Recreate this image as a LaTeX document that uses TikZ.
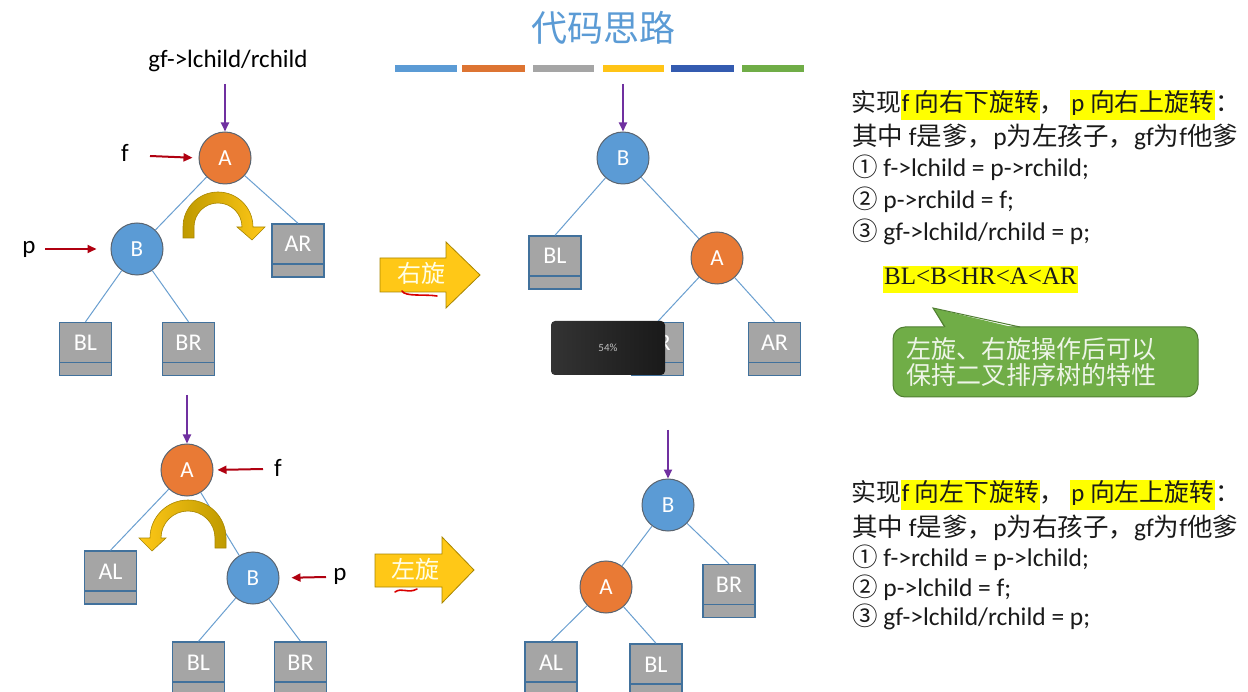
\documentclass[tikz,border=0pt]{standalone}
\usepackage{fontspec}
\setmainfont{Carlito}
\newfontfamily\cjk{Noto Sans CJK SC}
\usetikzlibrary{arrows.meta}
\definecolor{cOrange}{HTML}{E97A35}
\definecolor{cBlue}{HTML}{5B9BD5}
\definecolor{cBorder}{HTML}{5A6470}
\definecolor{cGray}{HTML}{A5A5A5}
\definecolor{cBoxLine}{HTML}{41719C}
\definecolor{cEdge}{HTML}{6A9FD0}
\definecolor{cPurple}{HTML}{7030A0}
\definecolor{cRed}{HTML}{B00010}
\definecolor{cGold}{HTML}{FFC817}
\definecolor{cGoldDark}{HTML}{BF9A00}
\definecolor{cGoldEdge}{HTML}{A88600}
\definecolor{cTitle}{HTML}{5B9BD5}
\definecolor{hlYellow}{HTML}{FFFF00}
\definecolor{cGreen}{HTML}{70AD47}
\definecolor{cGreenEdge}{HTML}{507E32}
\definecolor{cGreenText}{HTML}{EEF5E8}
\definecolor{cText}{HTML}{1A1A1A}
\newcommand{\fsz}[1]{\fontsize{#1}{#1}\selectfont}
\newcommand{\hlbox}[1]{{\setlength{\fboxsep}{1pt}\colorbox{hlYellow}{\strut#1}}}
\tikzset{
  circO/.style={circle, minimum size=52pt, inner sep=0pt, fill=cOrange, draw=cBorder, line width=1pt, text=white, font=\fsz{23}},
  circB/.style={circO, fill=cBlue},
  leaf/.style={rectangle, minimum width=52pt, minimum height=53pt, inner sep=0pt, fill=cGray, draw=cBoxLine, line width=1.4pt, text=white, text height=15pt, text depth=12pt, font=\fsz{24},
    path picture={\draw[cBoxLine, line width=1.2pt] ([yshift=13pt]path picture bounding box.south west) -- ([yshift=13pt]path picture bounding box.south east);}},
  treeline/.style={draw=cEdge, line width=1pt},
  purplearr/.style={draw=cPurple, line width=2pt, -{Triangle[length=9pt,width=8pt]}},
  redarr/.style={draw=cRed, line width=2pt, -{Triangle[length=9pt,width=8pt]}},
  lbl/.style={font=\fsz{25}, text=black, inner sep=0pt},
  codeline/.style={anchor=west, inner sep=0pt, font=\fsz{25.5}, text=cText},
  headline/.style={codeline, font=\fsz{24.8}},
  bigarrow/.style={fill=cGold, draw=cGoldEdge, line width=0.8pt},
  arrowtext/.style={font=\cjk\fsz{24}, text=white!90!yellow, inner sep=0pt},
  curlarrow/.style={draw=cGoldEdge, line width=0.6pt},
  squiggle/.style={draw=red!85!black, line width=1.6pt, line cap=round},
  bar/.style={line width=7pt},
}
\begin{document}
\begin{tikzpicture}[x=1pt,y=1pt]
\useasboundingbox (0,0) rectangle (1248,-692);
\fill[white] (0,0) rectangle (1248,-692);

% title and colour bars
\node[font=\cjk\fsz{36}, text=cTitle, inner sep=0pt] (title) at (603,-28) {代码思路};
\draw[bar, cBlue] (395,-69) -- (457,-69);
\draw[bar, cOrange!95!black] (462,-69) -- (525,-69);
\draw[bar, cGray] (533,-69) -- (594,-69);
\draw[bar, cGold!95!orange] (603,-69) -- (664,-69);
\draw[bar, cBoxLine!80!blue] (671,-69) -- (734,-69);
\draw[bar, cGreen] (742,-69) -- (804,-69);

% ===== top-left tree (before right rotation)
\node[lbl, anchor=base] (gf) at (228,-68) {gf->lchild/rchild};
\node[circO] (tlA) at (225,-158) {A};
\node[circB] (tlB) at (137,-249) {B};
\node[leaf] (tlAR) at (298,-250.5) {AR};
\node[leaf] (tlBL) at (85.5,-349) {BL};
\node[leaf] (tlBR) at (188.5,-349) {BR};
\draw[treeline] (tlA) -- (tlB);
\draw[treeline] (tlA) -- (tlAR.north);
\draw[treeline] (tlB) -- (tlBL.north);
\draw[treeline] (tlB) -- (tlBR.north);
\coordinate (tlTop) at (225,-84);
\draw[purplearr] (tlTop) -- (tlA.north);
\node[lbl, anchor=base] (tlf) at (125,-162) {f};
\node[lbl, anchor=base] (tlp) at (29,-254) {p};
\coordinate (tlfs) at (150,-156);
\coordinate (tlps) at (45,-249);
\draw[redarr, shorten >=6pt] (tlfs) -- (tlA.west);
\draw[redarr, shorten >=14pt] (tlps) -- (tlB.west);
\shadedraw[left color=cGoldDark, right color=cGold, curlarrow]
  (183,-238) -- (183,-227) arc[start angle=180, end angle=0, radius=35]
  -- (265,-227) -- (252,-240) -- (237,-227) -- (242,-227)
  arc[start angle=0, end angle=180, radius=24] -- (194,-238) -- cycle;

% right-rotation arrow
\draw[bigarrow] (380,-258) -- (446,-258) -- (446,-242) -- (480,-275) -- (446,-308) -- (446,-292) -- (380,-292) -- cycle;
\node[arrowtext] (rot1) at (421,-273) {右旋};
\draw[squiggle] (402,-291) .. controls (405,-297) and (425,-294) .. (437,-296);

% ===== top-right tree (after right rotation)
\node[circB] (trB) at (623,-158) {B};
\node[circO] (trA) at (717,-258) {A};
\node[leaf] (trBL) at (555,-262.5) {BL};
\node[leaf] (trBR) at (657.5,-349) {BR};
\node[leaf] (trAR) at (774.5,-349) {AR};
\draw[treeline] (trB) -- (trBL.north);
\draw[treeline] (trB) -- (trA);
\draw[treeline] (trA) -- (trBR.north);
\draw[treeline] (trA) -- (trAR.north);
\coordinate (trTop) at (623,-84);
\draw[purplearr] (trTop) -- (trB.north);

% right-rotation explanation
\node[headline] (r1) at (851,-105) {{\cjk 实现}\hlbox{f {\cjk 向右下旋转}}{\cjk ，} \hlbox{p {\cjk 向右上旋转}}{\cjk ：}};
\node[codeline] (r2) at (852,-137) {{\cjk 其中} f{\cjk 是爹，}p{\cjk 为左孩子，}gf{\cjk 为}f{\cjk 他爹}};
\node[codeline] (r3) at (852,-168) {{\cjk ①} f->lchild = p->rchild;};
\node[codeline] (r4) at (852,-200) {{\cjk ②} p->rchild = f;};
\node[codeline] (r5) at (852,-232) {{\cjk ③} gf->lchild/rchild = p;};
\node[anchor=west, inner sep=0pt, font=\fontspec{Liberation Serif}\fsz{25}, text=cText] (order) at (883,-280)
  {\hlbox{BL<B<HR<A<AR}};

% callout
\fill[cGreen, draw=cGreenEdge, line width=1pt, rounded corners=12pt] (893,-327) rectangle (1198,-397);
\fill[cGreen] (945,-329) -- (933,-308) -- (1020,-329) -- cycle;
\draw[cGreenEdge, line width=1pt] (945,-327) -- (933,-308) -- (1020,-327);
\node[anchor=west, inner sep=0pt, font=\cjk\fsz{25}, text=cGreenText] (c1) at (906,-349) {左旋、右旋操作后可以};
\node[anchor=west, inner sep=0pt, font=\cjk\fsz{25}, text=cGreenText] (c2) at (906,-375) {保持二叉排序树的特性};

% video overlay
\shade[left color=black!80, right color=black!90, rounded corners=4pt] (551,-321) rectangle (665,-375);
\node[font=\fsz{11}, text=black!25, inner sep=0pt] (pct) at (608,-348) {54\%};

% ===== bottom-left tree (before left rotation)
\node[circO] (blA) at (187,-470) {A};
\node[circB] (blB) at (253,-578) {B};
\node[leaf] (blAL) at (110.5,-577.5) {AL};
\node[leaf] (blBL) at (198.5,-668.5) {BL};
\node[leaf] (blBR) at (300.5,-668.5) {BR};
\draw[treeline] (blA) -- (blAL.north);
\draw[treeline] (blA) -- (blB);
\draw[treeline] (blB) -- (blBL.north);
\draw[treeline] (blB) -- (blBR.north);
\coordinate (blTop) at (187,-395);
\draw[purplearr] (blTop) -- (blA.north);
\node[lbl, anchor=base] (blf) at (278,-476) {f};
\node[lbl, anchor=base] (blp) at (340,-580) {p};
\coordinate (blfs) at (263,-469);
\coordinate (blps) at (326,-577);
\draw[redarr, shorten >=4pt] (blfs) -- (blA.east);
\draw[redarr, shorten >=12pt] (blps) -- (blB.east);
\shadedraw[left color=cGold, right color=cGoldDark, curlarrow]
  (226,-548) -- (226,-538) arc[start angle=0, end angle=180, radius=38]
  -- (139,-538) -- (152,-551) -- (166,-538) -- (161,-538)
  arc[start angle=180, end angle=0, radius=27] -- (215,-548) -- cycle;

% left-rotation arrow
\draw[bigarrow] (375,-554) -- (442,-554) -- (442,-537) -- (474,-570) -- (442,-603) -- (442,-587) -- (375,-587) -- cycle;
\node[arrowtext] (rot2) at (415,-569) {左旋};
\draw[squiggle] (395,-592) .. controls (402,-587) and (408,-594) .. (417,-589);

% ===== bottom-right tree (after left rotation)
\node[circB] (brB) at (668,-505) {B};
\node[circO] (brA) at (606,-587) {A};
\node[leaf] (brBR) at (729,-591) {BR};
\node[leaf] (brAL) at (551,-668.5) {AL};
\node[leaf] (brBL) at (656,-670.5) {BL};
\draw[treeline] (brB) -- (brA);
\draw[treeline] (brB) -- (brBR.north);
\draw[treeline] (brA) -- (brAL.north);
\draw[treeline] (brA) -- (brBL.north);
\coordinate (brTop) at (668,-430);
\draw[purplearr] (brTop) -- (brB.north);

% left-rotation explanation
\node[headline] (l1) at (851,-495) {{\cjk 实现}\hlbox{f {\cjk 向左下旋转}}{\cjk ，} \hlbox{p {\cjk 向左上旋转}}{\cjk ：}};
\node[codeline] (l2) at (852,-528) {{\cjk 其中} f{\cjk 是爹，}p{\cjk 为右孩子，}gf{\cjk 为}f{\cjk 他爹}};
\node[codeline] (l3) at (852,-558) {{\cjk ①} f->rchild = p->lchild;};
\node[codeline] (l4) at (852,-588) {{\cjk ②} p->lchild = f;};
\node[codeline] (l5) at (852,-617) {{\cjk ③} gf->lchild/rchild = p;};
\end{tikzpicture}
\end{document}
